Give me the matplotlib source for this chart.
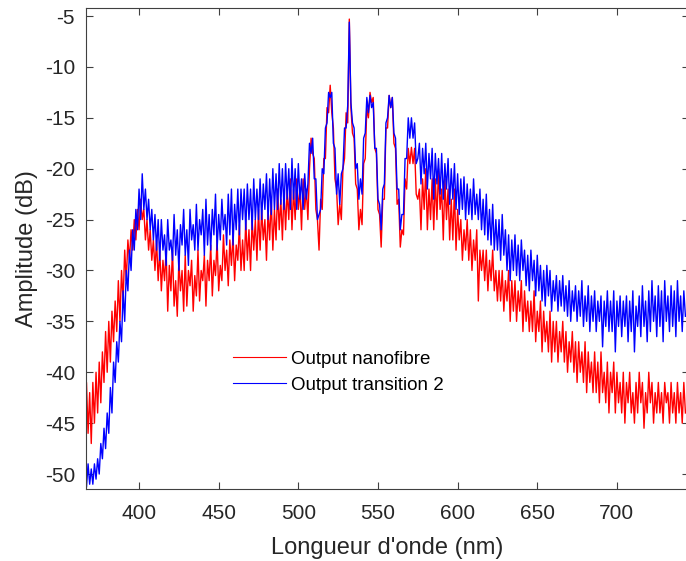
import numpy as np
import matplotlib as mpl
import matplotlib.pyplot as plt

p = plt.rcParams
p['font.family'] = ['Liberation Sans', 'DejaVu Sans']
p['axes.unicode_minus'] = False
p['axes.edgecolor'] = '#404040'
p['xtick.color'] = '#404040'
p['ytick.color'] = '#404040'
p['xtick.labelcolor'] = '#262626'
p['ytick.labelcolor'] = '#262626'

# wavelength grid, 1 nm steps from 366 to 743 nm
wavelength = np.arange(366, 744)

# Output nanofibre (red), dB
nanofibre = [
    -44, -41, -46, -42, -47, -41, -45, -40, -44, -39,
    -43, -38, -41, -36, -40, -35, -39, -34, -37, -33,
    -36, -31, -35, -30, -33, -28, -31, -27, -29, -26,
    -28, -25, -27, -24, -26, -23, -25, -24, -27, -25,
    -28, -26, -29, -27, -30, -27, -31, -28, -32, -29,
    -31, -28, -34, -29.5, -32, -28, -33.5, -31, -34.5, -29,
    -32, -30, -34, -28.5, -33.5, -30, -31.5, -29, -34, -30.5,
    -32.5, -28, -33, -30, -31, -28.5, -33.5, -29, -31, -27.5,
    -32.5, -29, -30.5, -27, -32, -29.5, -31, -26.5, -30, -28,
    -31.5, -27, -29.5, -26.5, -31, -27.5, -29, -25.5, -30, -27,
    -30, -25, -29, -26, -30, -25, -28, -25, -29, -24,
    -28, -24, -27, -25, -29, -24, -27, -23, -28, -24,
    -27, -22, -26, -23, -27, -22, -26, -22, -25, -21,
    -26, -22, -25, -21, -24, -22, -26, -21, -24, -22,
    -25, -20, -17, -18.5, -19, -24, -25, -28, -23, -24,
    -19, -19, -14, -14.5, -11.8, -14.5, -16, -21, -22, -25.5,
    -23.5, -25, -20, -19, -14.5, -15.5, -5.3, -14, -16.5, -17,
    -21.5, -22, -26, -24, -25.5, -19.5, -19, -14, -15, -12.5,
    -13.5, -13, -18, -18.5, -24, -24.5, -27.7, -23, -23, -16,
    -16, -12.8, -14, -13, -17.5, -18, -23.5, -23, -27.7, -26,
    -26.5, -21, -22, -18, -19.5, -17.9, -19.5, -18, -22.5, -23,
    -22, -26, -21, -24, -20, -26, -22, -25, -21, -26,
    -21, -25, -20, -24, -22, -27, -21, -25, -22, -27,
    -23, -27, -22, -28, -24, -27, -25, -29, -26, -28,
    -25, -29, -26, -30, -27, -29, -26, -33, -28, -30,
    -28, -31, -28, -32, -29, -31, -28, -32, -30, -33,
    -30, -33, -30, -34, -31, -33, -30, -35, -31, -34,
    -31, -35, -32, -34, -31, -36, -32, -35, -33, -36,
    -33, -36, -32, -37, -34, -36, -33, -38, -34, -37,
    -35, -38, -34, -39, -35, -38, -35, -39, -36, -38,
    -35, -39, -36, -40, -37, -39, -36, -40, -37, -41,
    -37, -40, -38, -41, -37, -42, -38, -41, -39, -42,
    -38, -42, -39, -43, -38, -42, -40, -43, -39, -44,
    -40, -42, -39, -44, -40, -43, -41, -44, -40, -45,
    -41, -43, -40, -44, -42, -45, -41, -44, -40, -43,
    -41, -45.5, -42, -44, -40, -43, -41, -45, -42, -44,
    -41, -44, -42, -45, -41, -43, -42, -45, -41, -44,
    -42, -45, -41, -44, -42, -45, -41, -44,
]

# Output transition 2 (blue), dB
transition2 = [
    -50, -51.3, -49, -51, -49.5, -51, -49, -50.5, -48.5, -50,
    -47, -48.5, -45.5, -47.5, -44, -46, -41.5, -44, -39, -41,
    -37, -39, -35, -37, -32, -35, -30, -32, -28, -30,
    -26, -28, -24, -26, -22, -25, -20.5, -24, -22, -25,
    -23, -26, -24, -27, -24.5, -28, -25, -29, -25, -28,
    -26.5, -29.5, -25, -28, -27, -29, -24.5, -28.5, -26, -30,
    -25.5, -27.5, -24, -28.5, -26, -29.5, -24, -27, -25.5, -28,
    -23.5, -28, -25, -26.5, -24, -28.5, -23, -27.5, -24.5, -28,
    -24, -26.5, -22.5, -28, -24.5, -27, -23, -26, -24.5, -27.5,
    -22.5, -26.5, -22, -27.5, -23.5, -26, -22, -26.5, -22, -25,
    -22, -26, -21.5, -25, -22, -26, -21, -25, -22, -25,
    -21, -25, -21.5, -24, -20.5, -25, -21, -24.5, -20, -24,
    -20.5, -24, -19.5, -23.5, -20, -24, -19.5, -23, -20, -24,
    -19, -23, -20, -24, -19.5, -23, -21, -24, -20.5, -23,
    -21.5, -17.5, -18.5, -17, -21, -21, -25, -24.5, -24, -20,
    -20.5, -16, -15.5, -12.5, -13, -12.5, -17.5, -18, -22.5, -20.5,
    -23.5, -20.5, -20, -16, -16, -13.8, -5.6, -13.5, -15.5, -16,
    -20, -19.5, -23, -21, -22.5, -17, -16.5, -13, -14.5, -12.8,
    -14, -13.5, -18, -18, -23, -23.5, -26, -22, -21.5, -15.5,
    -15, -12.8, -14, -13, -16.5, -17, -22, -22, -26, -24.5,
    -24.5, -19, -19, -15, -17, -15, -17, -15.5, -19.5, -19,
    -17.5, -21.5, -18, -20.5, -17.5, -22, -18.5, -21, -18, -23,
    -18.5, -21.5, -19, -22.5, -18.5, -23, -19.5, -22, -19, -23.5,
    -20, -23, -19.5, -24, -20.5, -24.5, -21, -24, -20.8, -25,
    -21.5, -24.5, -22, -25, -21, -24.5, -22.5, -25, -22, -26,
    -23, -26.5, -22.5, -27, -24, -27.5, -23.5, -28, -25, -28,
    -25, -29, -24.5, -28.5, -26, -30, -26.5, -31, -27, -30,
    -26.5, -30.5, -27.5, -31, -27, -30, -28, -31.5, -28.5, -32,
    -28, -31, -29, -32.5, -28.5, -32, -29.5, -33, -30, -33.5,
    -29.5, -32.5, -30, -34, -31, -33, -30.5, -34, -31, -33.5,
    -30.5, -34, -31.5, -34.5, -31, -35, -32, -34, -31.5, -35,
    -32, -34.5, -31, -35.5, -32.5, -35, -31.5, -36, -32.5, -35,
    -32, -36, -33, -35, -32.5, -37.5, -33, -35.5, -32, -36,
    -33, -36, -32, -38, -33, -35.5, -32.5, -36.5, -33, -35.5,
    -32.5, -37, -33, -36, -32, -38, -33.5, -35.5, -32.5, -36.5,
    -31.5, -35.5, -33, -37, -32, -36, -31, -35, -32.5, -36.5,
    -31.5, -35.5, -32, -37, -31, -35, -32.5, -36, -31.5, -35.5,
    -32, -36.5, -31, -35, -32.5, -36, -32, -34.5,
]

labels = ['Output nanofibre', 'Output transition 2']
xticks = [400, 450, 500, 550, 600, 650, 700]
yticks = [-50, -45, -40, -35, -30, -25, -20, -15, -10, -5]

fig = plt.figure(figsize=(6.86, 5.61), dpi=100)
ax = fig.add_axes([86/686, 72/561, 602.6/686, 480.7/561])

ax.plot(wavelength, nanofibre, color='#ff0000', lw=1.0, label=labels[0])
ax.plot(wavelength, transition2, color='#0000ff', lw=1.0, label=labels[1])

ax.set_xlim(366.7, 745)
ax.set_ylim(-51.47, -4.24)
ax.set_xticks(xticks)
ax.set_yticks(yticks)
ax.tick_params(direction='in', length=5, width=0.8, top=True, right=True,
               labelsize=15)
ax.tick_params(axis='x', pad=11)
ax.tick_params(axis='y', pad=8)
for s in ax.spines.values():
    s.set_linewidth(0.8)

ax.set_xlabel("Longueur d'onde (nm)", fontsize=17, color='#262626', labelpad=10)
ax.set_ylabel("Amplitude (dB)", fontsize=17, color='#262626', labelpad=5)

leg = ax.legend(loc='center left', bbox_to_anchor=(0.232, 0.243), frameon=False,
                fontsize=13.5, handlelength=2.8, handletextpad=0.3,
                labelspacing=0.45, borderaxespad=0)
for h in leg.get_lines():
    h.set_linewidth(0.8)

fig.savefig('out.png', dpi=100)
